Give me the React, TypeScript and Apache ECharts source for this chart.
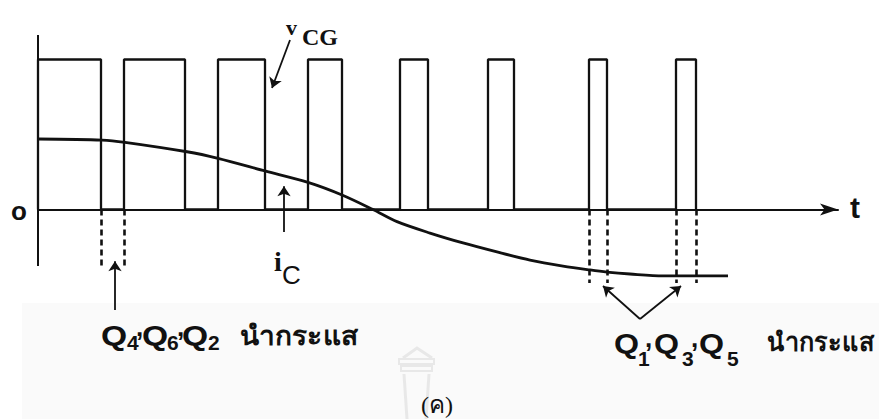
import { useEffect, useRef } from "react";
import * as echarts from "echarts";

// Gate pulse edges of v_CG (time units along t)
const pulseStart = [0, 86, 180, 270, 362, 450, 551, 638];
const pulseEnd = [63, 147, 227, 304, 390, 476, 569, 658];
const vHigh = 10;
const tEnd = 800;

// Collector current i_C sampled along t
const icTime = [0, 64, 87, 149, 180, 227, 270, 304, 335, 359, 392, 425, 459, 492, 525, 552, 569, 592, 625, 690];
const icValue = [4.7, 4.63, 4.48, 3.85, 3.41, 2.57, 1.81, 0.97, 0, -0.81, -1.57, -2.23, -2.83, -3.37, -3.77, -4.03, -4.17, -4.3, -4.43, -4.43];

// Vertical extent of the drawn v/i axis
const axisTop = 11.633;
const axisBottom = -3.767;

// Depth of the dashed conduction markers below the axis
const leftDashDepth = -3.9;
const rightDashDepth = -4.9;

const INK = "#111";
const SERIF = "'Liberation Serif', 'DejaVu Serif', serif";
const SANS = "'Liberation Sans', 'DejaVu Sans', 'Noto Sans', sans-serif";

type Tok = { x: number; y: number; t: string; size: number; sx?: number; font?: string; bold?: boolean };

const txt = ({ x, y, t, size, sx = 1, font = SANS, bold = true }: Tok) => ({
  type: "text",
  x,
  y,
  scaleX: sx,
  style: {
    text: t,
    fontFamily: font,
    fontWeight: bold ? "bold" : "normal",
    fontSize: size,
    fill: INK,
    textVerticalAlign: "middle",
  },
});

export default function App() {
  const ref = useRef<HTMLDivElement>(null);

  useEffect(() => {
    const chart = echarts.init(ref.current!, null, { renderer: "svg" });

    const vcg: number[][] = [];
    pulseStart.forEach((s, i) => {
      const e = pulseEnd[i];
      vcg.push([s, 0], [s, vHigh], [e, vHigh], [e, 0]);
    });
    const ic = icTime.map((t, i) => [t, icValue[i]]);

    const dashes: [number, number][] = [
      [pulseEnd[0], leftDashDepth],
      [pulseStart[1], leftDashDepth],
      [pulseStart[6], rightDashDepth],
      [pulseEnd[6], rightDashDepth],
      [pulseStart[7], rightDashDepth],
      [pulseEnd[7], rightDashDepth],
    ];

    // pointer arrows: [from, to] in data coordinates
    const pointers: [number[], number[]][] = [
      [[252, 11.3], [234, 8.1]],
      [[246, -1.5], [246, 1.55]],
      [[77, -6.7], [77, -3.45]],
      [[602, -7.3], [565, -5.1]],
      [[602, -7.3], [643, -5.1]],
    ];

    const labels: Tok[] = [
      { x: 11, y: 211, t: "o", size: 26 },
      { x: 850, y: 207, t: "t", size: 30 },
      { x: 286, y: 27, t: "v", size: 22, font: SERIF },
      { x: 302, y: 37, t: "CG", size: 24, font: SERIF },
      { x: 274, y: 261, t: "i", size: 28, font: SERIF },
      { x: 282, y: 275, t: "C", size: 26, bold: false },
      // Q4,Q6,Q2 นำกระแส
      { x: 101, y: 335, t: "Q", size: 28, sx: 1.2 },
      { x: 127, y: 343, t: "4", size: 20, sx: 1.05 },
      { x: 136, y: 327, t: ",", size: 26 },
      { x: 142, y: 335, t: "Q", size: 28, sx: 1.2 },
      { x: 167, y: 343, t: "6", size: 20, sx: 1.05 },
      { x: 177, y: 327, t: ",", size: 26 },
      { x: 182, y: 335, t: "Q", size: 28, sx: 1.2 },
      { x: 208, y: 343, t: "2", size: 20, sx: 1.05 },
      { x: 240, y: 336, t: "นำกระแส", size: 27, sx: 1.04 },
      // Q1,Q3,Q5 นำกระแส
      { x: 614, y: 343, t: "Q", size: 28, sx: 1.15 },
      { x: 638, y: 359, t: "1", size: 20, sx: 1.05 },
      { x: 645, y: 338, t: ",", size: 26 },
      { x: 654, y: 343, t: "Q", size: 28, sx: 1.15 },
      { x: 682, y: 359, t: "3", size: 20, sx: 1.05 },
      { x: 691, y: 338, t: ",", size: 26 },
      { x: 699, y: 343, t: "Q", size: 28, sx: 1.15 },
      { x: 727, y: 359, t: "5", size: 20, sx: 1.05 },
      { x: 767, y: 342, t: "นำกระแส", size: 26, sx: 0.97 },
      { x: 421, y: 405, t: "(ค)", size: 24, font: SERIF, bold: false },
    ];

    chart.setOption({
      animation: false,
      backgroundColor: "#ffffff",
      grid: { left: 38, top: 35, width: 800, height: 294.5, containLabel: false },
      xAxis: {
        type: "value",
        min: 0,
        max: tEnd,
        axisLine: {
          show: true,
          onZero: true,
          symbol: ["none", "arrow"],
          symbolSize: [9, 18],
          lineStyle: { color: INK, width: 2 },
        },
        axisTick: { show: false },
        axisLabel: { show: false },
        splitLine: { show: false },
      },
      yAxis: {
        type: "value",
        min: -8,
        max: axisTop,
        axisLine: { show: false },
        axisTick: { show: false },
        axisLabel: { show: false },
        splitLine: { show: false },
      },
      series: [
        {
          name: "vCG",
          type: "line",
          data: vcg,
          symbol: "none",
          clip: false,
          lineStyle: { color: INK, width: 2.3 },
          z: 3,
        },
        {
          name: "iC",
          type: "line",
          data: ic,
          symbol: "none",
          smooth: 0.3,
          clip: false,
          lineStyle: { color: INK, width: 2.8 },
          z: 4,
        },
        {
          name: "axis",
          type: "line",
          data: [],
          clip: false,
          markLine: {
            silent: true,
            symbol: ["none", "none"],
            label: { show: false },
            lineStyle: { type: "solid", width: 2, color: INK },
            data: [[{ coord: [0, axisTop] }, { coord: [0, axisBottom] }]],
          },
        },
        {
          name: "markers",
          type: "line",
          data: [],
          clip: false,
          markLine: {
            silent: true,
            symbol: ["none", "none"],
            label: { show: false },
            lineStyle: { type: [6, 4], width: 2.6, color: INK },
            data: dashes.map(([x, d]) => [{ coord: [x, 0] }, { coord: [x, d] }]),
          },
        },
        {
          name: "pointers",
          type: "line",
          data: [],
          clip: false,
          markLine: {
            silent: true,
            symbol: ["none", "arrow"],
            symbolSize: 10,
            label: { show: false },
            lineStyle: { type: "solid", width: 1.8, color: INK },
            data: pointers.map(([a, b]) => [{ coord: a }, { coord: b }]),
          },
        },
      ],
      graphic: [
        {
          type: "rect",
          z: -10,
          shape: { x: 22, y: 303, width: 857, height: 116 },
          style: { fill: "#fafafa" },
        },
        // faint emblem behind the caption
        {
          type: "group",
          z: -5,
          children: [
            {
              type: "polyline",
              shape: { points: [[403, 358], [417, 348], [432, 358]] },
              style: { stroke: "#e8e8e8", lineWidth: 3, fill: "none" },
            },
            {
              type: "rect",
              shape: { x: 399, y: 359, width: 35, height: 5 },
              style: { stroke: "#e8e8e8", lineWidth: 2, fill: "none" },
            },
            {
              type: "rect",
              shape: { x: 401, y: 366, width: 31, height: 5 },
              style: { stroke: "#e8e8e8", lineWidth: 2, fill: "none" },
            },
            {
              type: "polyline",
              shape: { points: [[404, 374], [407, 419]] },
              style: { stroke: "#e8e8e8", lineWidth: 3 },
            },
            {
              type: "polyline",
              shape: { points: [[429, 374], [426, 419]] },
              style: { stroke: "#e8e8e8", lineWidth: 3 },
            },
          ],
        },
        ...labels.map(txt),
      ],
    });

    return () => chart.dispose();
  }, []);

  return (
    <div
      ref={ref}
      style={{ position: "fixed", left: 0, top: 0, width: 879, height: 419, background: "#fff" }}
    />
  );
}
